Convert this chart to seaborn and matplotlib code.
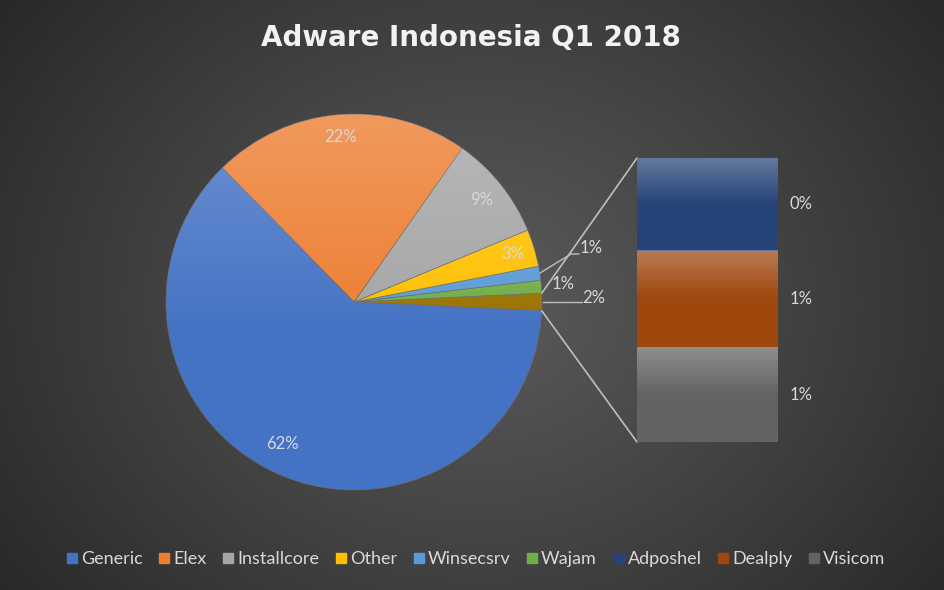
import numpy as np
import pandas as pd
import matplotlib
matplotlib.use("Agg")
import matplotlib.pyplot as plt
from matplotlib.patches import Circle
from matplotlib.lines import Line2D
import seaborn as sns

# ---------------- data ----------------
pie_labels = ["Generic", "Elex", "Installcore", "Other", "Winsecsrv", "Wajam"]
pie_values = [61.9, 22.1, 9.0, 3.2, 1.2, 1.1]
bar_labels = ["Adposhel", "Dealply", "Visicom"]
bar_values = [0.49, 0.51, 0.50]
title_text = "Adware Indonesia Q1 2018"

pie_colors = ["#4472C4", "#ED7D31", "#A5A5A5", "#FFC000", "#5B9BD5", "#70AD47"]
bar_colors = ["#264478", "#9E480E", "#636363"]
composite_color = "#997300"
text_col = "#D9D9D9"

sns.set_theme(style="white")
plt.rcParams["font.family"] = ["Lato", "DejaVu Sans"]

W, H = 944, 590
fig = plt.figure(figsize=(W / 100, H / 100), dpi=100)
ax = fig.add_axes([0, 0, 1, 1])
ax.set_xlim(0, W)
ax.set_ylim(0, H)
ax.axis("off")

# background radial gradient
yy, xx = np.mgrid[0:H, 0:W]
cx, cy = 480, 300
d = np.sqrt(((xx - cx) / 620.0) ** 2 + ((yy - cy) / 520.0) ** 2)
d = np.clip(d, 0, 1)
c0, c1 = 0x5A / 255, 0x26 / 255
g = c0 + (c1 - c0) * d ** 1.1
bg = np.dstack([g, g, g])
ax.imshow(bg, extent=(0, W, 0, H), origin="upper", zorder=0, aspect="auto")

# ---------------- pie ----------------
center = (354, H - 302)
R = 188
composite = sum(bar_values)
order_vals = [composite] + pie_values[::-1]
order_cols = [composite_color] + pie_colors[::-1]
names_order = ["__comp"] + pie_labels[::-1]
total = sum(order_vals)
start = -composite / total * 360 / 2
wedges, _ = ax.pie(order_vals, colors=order_cols, startangle=start, counterclock=True,
                   center=center, radius=R, frame=True,
                   wedgeprops=dict(linewidth=0.5, edgecolor="#6a6a6a"))
for w in wedges:
    w.set_zorder(2)
ax.set_xlim(0, W)
ax.set_ylim(0, H)
ax.set_aspect("auto")
ax.axis("off")

# light gradient overlay on pie
gy = np.linspace(0, 1, 200)[:, None]
alpha = np.clip(0.22 * (1 - gy / 0.6), 0, None)
ov = np.zeros((200, 2, 4))
ov[..., :3] = 1.0
ov[..., 3] = alpha
im = ax.imshow(ov, extent=(center[0] - R, center[0] + R, center[1] - R, center[1] + R),
               origin="upper", zorder=3, aspect="auto")
im.set_clip_path(Circle(center, R, transform=ax.transData))

cum = np.cumsum([0] + order_vals)
angles = start + cum / total * 360


def pt(a, r=R):
    return center[0] + r * np.cos(np.radians(a)), center[1] + r * np.sin(np.radians(a))


lab_r = {"Generic": 0.83, "Elex": 0.88, "Installcore": 0.87, "Other": 0.88}
FS = 12
for i, name in enumerate(names_order):
    mid = (angles[i] + angles[i + 1]) / 2
    pct = f"{order_vals[i] / total * 100:.0f}%"
    if name in lab_r:
        x, y = pt(mid, R * lab_r[name])
        if name == "Generic":
            x -= 8
        ax.text(x, y, pct, ha="center", va="center", fontsize=FS, color=text_col, zorder=5)
    elif name == "Winsecsrv":
        x0, y0 = pt(mid)
        ax.plot([x0, 571, 579], [y0, H - 254, H - 254], color="#BFBFBF", lw=1, zorder=4)
        ax.text(580, H - 248, pct, ha="left", va="center", fontsize=FS, color=text_col, zorder=5)
    elif name == "Wajam":
        ax.text(563, H - 284, pct, ha="center", va="center", fontsize=FS, color=text_col, zorder=5)
    elif name == "__comp":
        x0, y0 = pt(mid)
        ax.plot([x0 + 1, 582], [y0, H - 302], color="#BFBFBF", lw=1, zorder=4)
        ax.text(594, H - 298, pct, ha="center", va="center", fontsize=FS, color=text_col, zorder=5)

# ---------------- bar of pie ----------------
bx0, bx1, by0, by1 = 637, 778, H - 442, H - 158
bax = fig.add_axes([bx0 / W, by0 / H, (bx1 - bx0) / W, (by1 - by0) / H])
bax.patch.set_alpha(0)
cum_bar = np.cumsum(bar_values[::-1])[::-1]
for h, col in zip(cum_bar, bar_colors):
    sns.barplot(x=["x"], y=[h], color=col, width=1.0, ax=bax, saturation=1,
                linewidth=0, zorder=2)
lows = list(cum_bar[1:]) + [0]
for h_top, h_bot in zip(cum_bar, lows):
    gg = np.linspace(0, 1, 100)[:, None]
    a = np.clip(0.28 * (1 - gg / 0.5), 0, None)
    o = np.zeros((100, 2, 4)); o[..., :3] = 1; o[..., 3] = a
    bax.imshow(o, extent=(-0.5, 0.5, h_bot, h_top), origin="upper", aspect="auto", zorder=3)
bax.set_xlim(-0.5, 0.5)
bax.set_ylim(0, composite)
bax.axis("off")
for h_top, h_bot, v in zip(cum_bar, lows, bar_values):
    bax.text(0.5 + 23 / (bx1 - bx0), (h_top + h_bot) / 2, f"{round(v + 1e-9):.0f}%",
             ha="center", va="center", fontsize=FS, color=text_col, clip_on=False)

# connector lines
xa, ya = pt(angles[1])
xb, yb = pt(angles[0])
ax.plot([xa, bx0], [ya, by1], color="#BFBFBF", lw=1.2, zorder=4)
ax.plot([xb, bx0], [yb, by0], color="#BFBFBF", lw=1.2, zorder=4)

# ---------------- title ----------------
ax.text(W / 2 - 1, H - 38, title_text, ha="center", va="center", fontsize=20,
        fontweight="bold", color="#F2F2F2", zorder=6, family="DejaVu Sans")

# ---------------- legend ----------------
leg_names = pie_labels + bar_labels
leg_cols = pie_colors + bar_colors
handles = [Line2D([0], [0], marker="s", linestyle="", markersize=7,
                  markerfacecolor=c, markeredgecolor=c) for c in leg_cols]
fig.legend(handles, leg_names, loc="center", bbox_to_anchor=(475 / W, 1 - 559 / H), ncol=9,
           frameon=False, fontsize=13, labelcolor=text_col, handletextpad=0.1,
           columnspacing=0.8, handlelength=0.8)

fig.savefig("out.png", dpi=100)
